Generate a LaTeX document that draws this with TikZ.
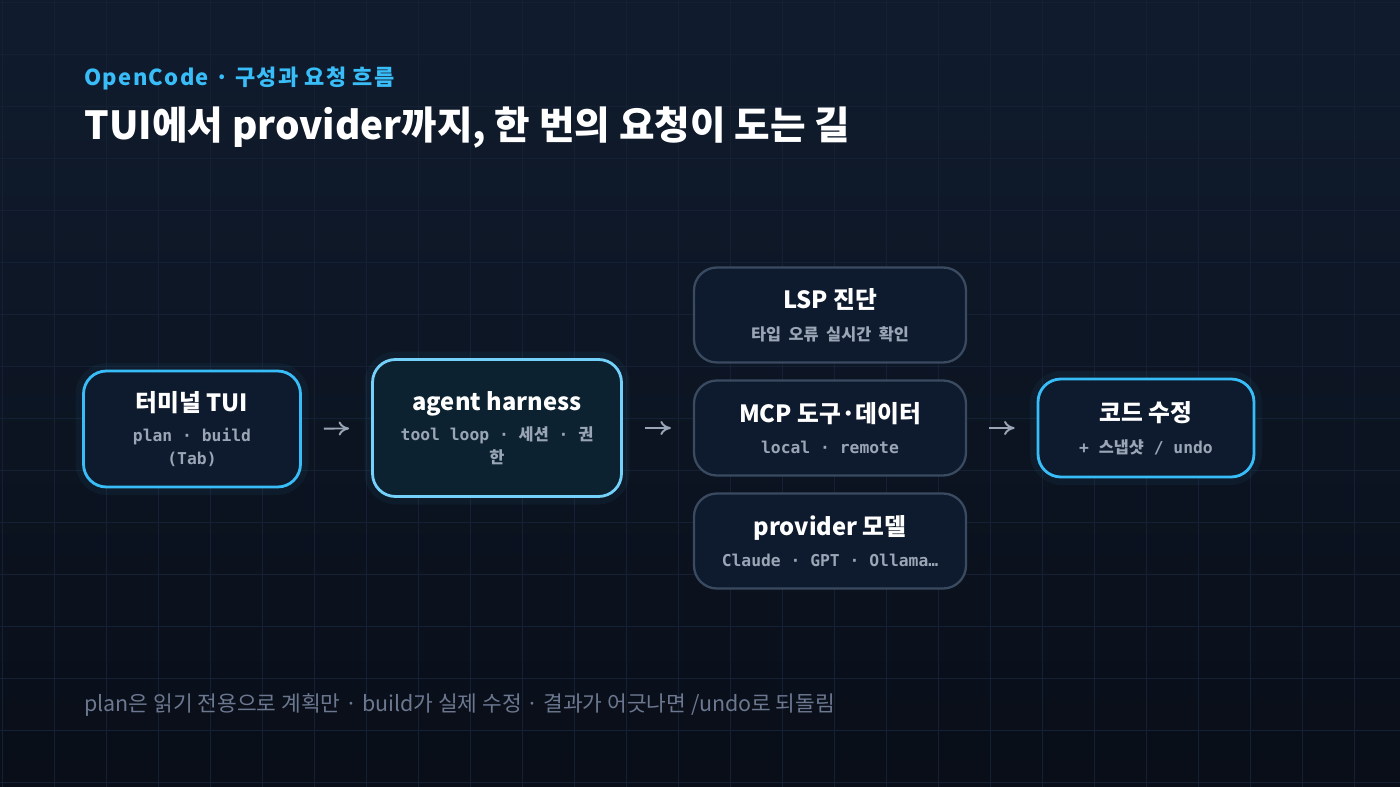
\documentclass[tikz,border=0pt]{standalone}
\usepackage{fontspec}
\setmainfont{Noto Sans CJK KR}
\newfontfamily\cjk{Noto Sans CJK KR}
\newfontfamily\kicker[LetterSpace=6]{Noto Sans CJK KR}
\newfontfamily\monolat{DejaVu Sans Mono}
\usetikzlibrary{positioning,arrows.meta}
\definecolor{bgtop}{HTML}{101C2E}
\definecolor{bgbot}{HTML}{090E18}
\definecolor{gridline}{HTML}{142033}
\definecolor{accent}{HTML}{38BDF8}
\definecolor{softedge}{HTML}{3A4A60}
\definecolor{boxfill}{HTML}{0E1B2E}
\definecolor{agentfill}{HTML}{0C2230}
\definecolor{subtext}{HTML}{9AA6B6}
\definecolor{foottext}{HTML}{6B7890}
\newcommand{\ko}[1]{{\cjk #1}}
\newcommand{\subline}[1]{{\monolat\bfseries\fontsize{9.3}{10}\selectfont\color{subtext}#1}}
\tikzset{
  box/.style={rounded corners=13pt, draw=softedge, line width=1.3pt, fill=boxfill,
    minimum width=5.44cm, minimum height=1.9cm, align=center, text=white,
    font=\cjk\fontsize{13.5}{15}\selectfont\bfseries},
  hot/.style={box, draw=accent, line width=1.6pt},
  flow/.style={draw=subtext, line width=1.1pt, -{To[length=6pt,width=8pt]}, shorten <=0.44cm, shorten >=0.44cm}
  }
\begin{document}
\begin{tikzpicture}[x=0.02cm,y=-0.02cm]
    % background and grid
    \shade[top color=bgtop, bottom color=bgbot] (0,0) rectangle (1400,787);
    \useasboundingbox (0,0) rectangle (1400,787);
    \foreach \g in {0,52,...,1400} {
      \draw[gridline, line width=0.5pt] (\g+2,0) -- (\g+2,787);
    }
    \foreach \g in {0,52,...,787} {
      \draw[gridline, line width=0.5pt] (0,\g+2) -- (1400,\g+2);
    }

    % headings
    \node[anchor=west, inner sep=0pt, text=accent, font=\kicker\fontsize{12.5}{14}\selectfont\bfseries] (kick) at (84,78) {OpenCode · 구성과 요청 흐름};
    \node[anchor=west, inner sep=0pt, text=white, font=\cjk\fontsize{22}{25}\selectfont\bfseries] (title) at (84,128) {TUI에서 provider까지, 한 번의 요청이 도는 길};

    % glow behind highlighted boxes
    \foreach \cx/\cy/\w/\h in {192/429/217/116, 497/428/249/137, 1146/428/216/98} {
      \fill[accent, opacity=0.05, rounded corners=18pt] (\cx-\w/2-8,\cy-\h/2-8) rectangle (\cx+\w/2+8,\cy+\h/2+8);
    }

    % the boxes
    \node[hot, minimum width=4.34cm, minimum height=2.32cm] (tui) at (192,429) {터미널 TUI\\[2pt]\subline{plan · build}\\[-2pt]\subline{(Tab)}};
    \node[hot, draw=accent!70!white, fill=agentfill, minimum width=4.98cm, minimum height=2.74cm] (agent) at (497,428) {agent harness\\[2pt]\subline{tool loop · \ko{세션} · \ko{권}}\\[-2pt]\subline{\ko{한}}};
    \node[box] (lsp) at (830,315) {LSP 진단\\[3pt]\subline{\ko{타입\ \ 오류\ \ 실시간\ \ 확인}}};
    \node[box] (mcp) at (830,428) {MCP 도구·데이터\\[3pt]\subline{local · remote}};
    \node[box] (model) at (830,541) {provider 모델\\[3pt]\subline{Claude · GPT · Ollama…}};
    \node[hot, minimum width=4.32cm, minimum height=1.96cm] (edit) at (1146,428) {코드 수정\\[3pt]\subline{+ \ko{스냅샷} / undo}};

    % the connections
    \foreach \source/\sink in {tui/agent, agent/mcp, mcp/edit} {
      \path[flow] (\source) -- (\sink);
    }

    % footnote
    \node[anchor=west, inner sep=0pt, text=foottext, font=\cjk\fontsize{12.2}{14}\selectfont] (note) at (84,705) {plan은 읽기 전용으로 계획만 · build가 실제 수정 · 결과가 어긋나면 /undo로 되돌림};
\end{tikzpicture}
\end{document}
